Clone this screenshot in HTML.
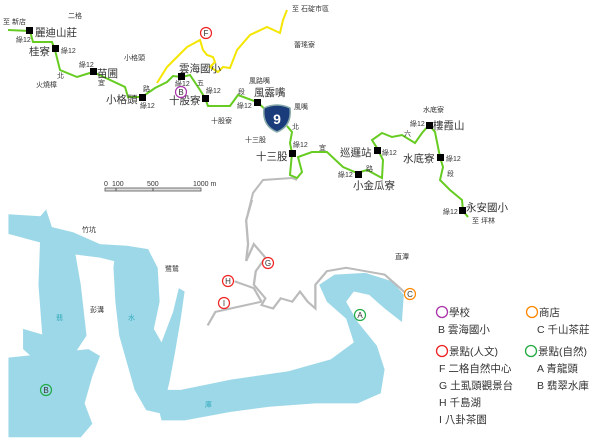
<!DOCTYPE html>
<html><head><meta charset="utf-8"><style>
html,body{margin:0;padding:0;background:#fff}
svg{display:block}
text{font-family:"Liberation Sans","Noto Sans CJK TC",sans-serif;fill:#333}
.s{font-size:7px}.m{font-size:8px}.b{font-size:10.5px}.l{font-size:10.5px}
</style></head><body>
<svg width="600" height="442" viewBox="0 0 600 442" xmlns="http://www.w3.org/2000/svg">
<g transform="translate(0,200) scale(0.3846,0.339)" fill="#9dd8e8">
<polygon points="22,42 105,48 120,28 135,80 190,95 260,130 330,135 385,145 400,185 330,190 260,170 190,160 120,130 22,100"/>
<polygon points="105,95 190,120 210,250 225,400 190,460 130,460 110,400 100,250"/>
<polygon points="60,380 120,400 130,460 90,470 60,440"/>
<polygon points="22,465 230,440 260,460 240,520 220,600 240,660 210,700 22,700"/>
<polygon points="300,150 385,145 410,200 415,300 400,380 420,420 450,330 465,260 480,270 470,350 455,450 440,540 420,630 380,620 350,560 330,480 310,400 300,300 295,200"/>
<polygon points="400,560 470,560 600,530 750,505 860,470 920,420 900,350 850,300 830,250 870,220 950,215 1020,240 1050,280 1045,360 1000,320 960,280 920,270 900,300 930,360 980,430 1000,500 990,570 930,600 820,600 700,610 600,625 480,650 420,650"/>
<polyline fill="none" stroke="#bbb" stroke-width="6" points="655,0 640,60 645,130 640,180 660,130 690,170 665,210 660,250 690,290 680,310 710,320 730,290 760,300 780,270 800,300 820,320 820,250 850,210 900,200 950,210 1000,220 1040,260 1060,280"/>
<polyline fill="none" stroke="#bbb" stroke-width="6" points="610,240 660,260 680,300"/>
<polyline fill="none" stroke="#bbb" stroke-width="6" points="540,370 560,330 620,315 680,300"/>
</g>
<polyline fill="none" stroke="#bbb" stroke-width="2" points="297,180 292,178 263,180 253,193 248,213 252,200"/>
<polyline fill="none" stroke="#f4e600" stroke-width="2" points="157,83 167,67 177,57 187,47 200,40 203,50 207,55 213,57 215,62 210,67 218,72 223,67 230,68 237,50 250,35 267,27 280,33 283,20 287,10"/>
<polyline fill="none" stroke="#66cc22" stroke-width="2" points="8,30 30,31 33,42 52,42 55,50 60,70 77,77 93,72 125,87 128,97 142,97 155,88 167,82 173,76 182,77 190,75 200,90 205,98 208,106 230,106 238,95 257,102 266,110"/>
<polyline fill="none" stroke="#66cc22" stroke-width="2" points="287,126 292,132 290,143 292,153 290,175 297,178 302,172 298,157 312,152 327,152 343,167 357,173 367,170 382,178 383,160 377,148 372,140 382,133 392,137 402,135 415,143 422,133 429,125 435,132 438,147 440,157 443,167 440,180 450,190 462,200 463,211 468,217"/>
<g fill="#000">
<rect x="26" y="27" width="7" height="7"/><rect x="52" y="45" width="7" height="7"/><rect x="90" y="68" width="7" height="7"/><rect x="139" y="94" width="7" height="7"/><rect x="178" y="73" width="7" height="7"/><rect x="202" y="95" width="7" height="7"/><rect x="254" y="99" width="7" height="7"/><rect x="289" y="150" width="7" height="7"/><rect x="374" y="147" width="7" height="7"/><rect x="355" y="171" width="7" height="7"/><rect x="426" y="122" width="7" height="7"/><rect x="437" y="154" width="7" height="7"/><rect x="459" y="207" width="7" height="7"/>
</g>
<path d="M264,108 Q277,102 290,108 Q292,126 277,132 Q262,126 264,108Z" fill="#1a3c7a" stroke="#8aa" stroke-width="1.5"/>
<text x="277" y="124" font-size="14" font-weight="bold" text-anchor="middle" style="fill:#fff">9</text>
<text class="s" x="3" y="24">至 新店</text><text class="s" x="68" y="18">二格</text>
<text class="b" x="35" y="36">麗迪山莊</text><text class="s" x="16" y="42">綠12</text>
<text class="b" x="29" y="55">桂寮</text><text class="s" x="61" y="53">綠12</text>
<text class="s" x="36" y="87">火燒樟</text><text class="s" x="57" y="78">北</text>
<text class="s" x="79" y="67">綠12</text><text class="b" x="97" y="77">苗圃</text><text class="s" x="98" y="85">宜</text>
<text class="s" x="124" y="60">小格頭</text><text class="s" x="143" y="91">路</text>
<text class="b" x="106" y="103">小格頭</text><text class="s" x="140" y="108">綠12</text>
<text class="b" x="179" y="72">雲海國小</text><text class="s" x="175" y="86">綠12</text>
<text class="s" x="197" y="85">五</text><text class="s" x="206" y="93">綠12</text>
<text class="b" x="169" y="104">十股寮</text><text class="s" x="211" y="123">十股寮</text>
<text class="s" x="238" y="94">段</text><text class="s" x="249" y="83">風路嘴</text>
<text class="b" x="254" y="96">風露嘴</text><text class="s" x="237" y="108">綠12</text>
<text class="s" x="294" y="109">風嘴</text><text class="s" x="292" y="129">北</text>
<text class="s" x="245" y="142">十三股</text><text class="s" x="293" y="147">綠12</text>
<text class="b" x="256" y="160">十三股</text><text class="s" x="319" y="150">宜</text>
<text class="b" x="340" y="156">巡邏站</text><text class="s" x="382" y="155">綠12</text>
<text class="s" x="366" y="171">路</text><text class="s" x="338" y="177">綠12</text>
<text class="b" x="353" y="189">小金瓜寮</text><text class="s" x="404" y="136">六</text>
<text class="s" x="423" y="112">水底寮</text><text class="s" x="410" y="126">綠12</text>
<text class="b" x="433" y="129">樓霞山</text><text class="b" x="403" y="162">水底寮</text>
<text class="s" x="446" y="161">綠12</text><text class="s" x="447" y="176">段</text>
<text class="b" x="466" y="211">永安國小</text><text class="s" x="443" y="214">綠12</text>
<text class="s" x="472" y="223">至 坪林</text><text class="s" x="292" y="11">至 石碇市區</text>
<text class="s" x="294" y="47">蕾瑤寮</text>
<text class="s" x="104" y="186">0</text><text class="s" x="112" y="186">100</text><text class="s" x="147" y="186">500</text><text class="s" x="193" y="186">1000 m</text>
<rect x="105" y="188" width="96" height="3" fill="#ddd" stroke="#555" stroke-width="0.8"/>
<line x1="116" y1="188" x2="116" y2="191" stroke="#555"/><line x1="153" y1="188" x2="153" y2="191" stroke="#555"/>
<text class="s" x="82" y="232">竹坑</text><text class="s" x="165" y="271">鷺鷥</text>
<text class="s" x="90" y="312">彭溝</text><text class="s" x="56" y="320" style="fill:#3ab">翡</text>
<text class="s" x="128" y="320" style="fill:#3ab">水</text><text class="s" x="205" y="407" style="fill:#3ab">庫</text>
<text class="s" x="395" y="259">直潭</text>
<g fill="#fff" stroke-width="1.2">
<circle cx="206" cy="33" r="5.5" stroke="#e22"/><circle cx="181" cy="92" r="5.5" stroke="#a3a"/>
<circle cx="268" cy="263" r="5.5" stroke="#e22"/><circle cx="228" cy="281" r="5.5" stroke="#e22"/>
<circle cx="224" cy="303" r="5.5" stroke="#e22"/><circle cx="410" cy="294" r="5.5" stroke="#f80"/>
<circle cx="360" cy="315" r="5.5" stroke="#2a4"/><circle cx="46" cy="390" r="5.5" stroke="#2a4" fill="none"/>
</g>
<g font-size="8" text-anchor="middle">
<text x="206" y="36">F</text><text x="181" y="95">B</text><text x="268" y="266">G</text><text x="228" y="284">H</text><text x="224" y="306">I</text><text x="410" y="297">C</text><text x="360" y="318">A</text><text x="46" y="393">B</text>
</g>
<g fill="none" stroke-width="1.3">
<circle cx="442" cy="312" r="5.5" stroke="#a3a"/><circle cx="532" cy="312" r="5.5" stroke="#f80"/>
<circle cx="442" cy="351" r="5.5" stroke="#e22"/><circle cx="531" cy="351" r="5.5" stroke="#2a4"/>
</g>
<text class="l" x="449" y="316">學校</text><text class="l" x="539" y="316">商店</text>
<text class="l" x="438" y="333">B 雲海國小</text><text class="l" x="537" y="333">C 千山茶莊</text>
<text class="l" x="449" y="355">景點(人文)</text><text class="l" x="538" y="355">景點(自然)</text>
<text class="l" x="439" y="372">F 二格自然中心</text><text class="l" x="537" y="372">A 青龍頭</text>
<text class="l" x="439" y="389">G 土虱頭觀景台</text><text class="l" x="537" y="389">B 翡翠水庫</text>
<text class="l" x="439" y="406">H 千島湖</text>
<text class="l" x="439" y="423">I 八卦茶園</text>
</svg>
</body></html>
